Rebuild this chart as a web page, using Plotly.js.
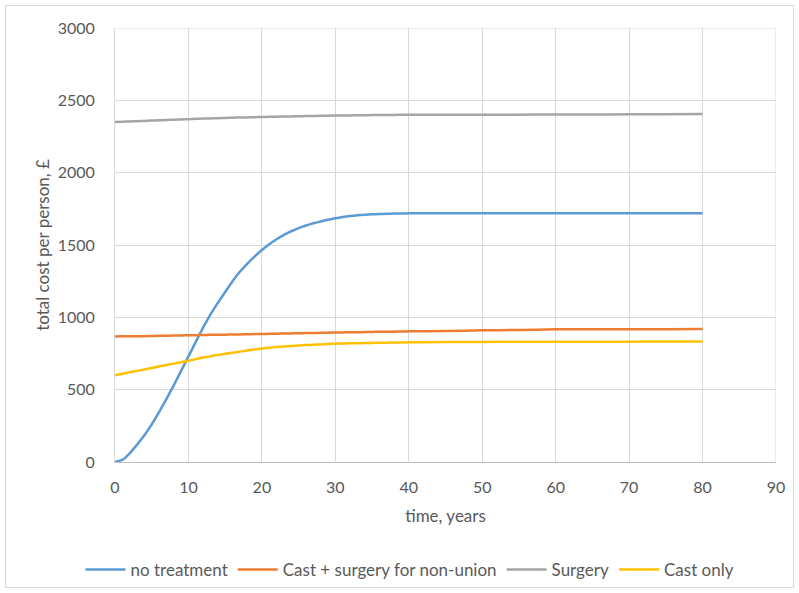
<!DOCTYPE html>
<html><head><meta charset="utf-8">
<script src="https://cdn.plot.ly/plotly-3.0.1.min.js"></script>
<style>html,body{margin:0;padding:0;background:#fff}#c{width:799px;height:593px}</style>
</head><body><div id="c"></div>
<script>
const years = [0,1,2,3,4,5,6,7,8,9,10,11,12,13,14,15,16,17,18,19,20,21,22,23,24,25,26,27,28,29,30,31,32,33,34,35,36,37,38,39,40,45,50,55,60,65,70,75,80];
const noTreatment = [0,15,60,120,185,260,345,435,530,630,730,830,930,1020,1100,1175,1250,1315,1370,1420,1465,1505,1540,1570,1595,1617,1635,1650,1663,1675,1685,1693,1700,1705,1709,1712,1714,1716,1717,1718,1719,1720,1720,1720,1720,1720,1720,1720,1720];
const castSurgery = [868,869,869,870,870,871,872,873,874,875,876,877,878,879,879,880,881,882,883,884,885,886,887,888,889,890,891,892,893,894,895,896,897,897,898,899,900,901,901,902,903,906,910,913,917,918,918,918,919];
const surgery = [2350,2352,2354,2356,2358,2360,2362,2364,2366,2368,2370,2372,2374,2375,2377,2378,2380,2381,2382,2383,2385,2386,2387,2388,2389,2390,2391,2392,2393,2394,2395,2396,2396,2397,2397,2398,2398,2399,2399,2400,2400,2400,2401,2401,2402,2402,2403,2404,2405];
const castOnly = [600,610,620,630,640,650,660,670,680,690,700,711,722,731,740,748,755,763,770,778,785,790,795,799,802,805,808,811,813,816,818,819,820,821,822,823,824,825,826,826,827,829,830,831,832,832,832,833,833];
const seriesNames = ["no treatment","Cast + surgery for non-union","Surgery","Cast only"];
const xTicks = [0,10,20,30,40,50,60,70,80,90];
const yTicks = [0,500,1000,1500,2000,2500,3000];

const colors = ["#5B9BD5","#ED7D31","#A5A5A5","#FFC000"];
const data = [noTreatment, castSurgery, surgery, castOnly].map((v,i)=>({
  x: years, y: v, type:"scatter", mode:"lines", name: seriesNames[i],
  line:{color:colors[i], width:2.5, shape:"spline", smoothing:0.3}
}));
const fam = "Lato, 'Open Sans', sans-serif";
const tickFont = {family:fam, size:16, color:"#595959"};
const titleFont = {family:fam, size:17, color:"#595959"};
const L = 115, R = 776, T = 28, B = 462;
const layout = {
  width:799, height:593, margin:{l:L, r:799-R, t:T, b:593-B, autoexpand:false},
  paper_bgcolor:"#fff", plot_bgcolor:"#fff", font: tickFont, showlegend:true,
  xaxis:{range:[0,90], tickvals:xTicks, ticktext:xTicks.map(String), showgrid:true, gridcolor:"#D9D9D9", gridwidth:1,
    zeroline:false, showline:true, linecolor:"#BFBFBF", linewidth:1, ticks:"", ticklabelstandoff:11, tickfont:tickFont, automargin:false,
    title:{text:"time, years", font:titleFont, standoff:14}, fixedrange:true},
  yaxis:{range:[0,3000], tickvals:yTicks, ticktext:yTicks.map(String), showgrid:true, gridcolor:"#D9D9D9", gridwidth:1,
    zeroline:false, showline:true, linecolor:"#D9D9D9", linewidth:1, ticks:"", ticklabelstandoff:16, tickfont:tickFont, automargin:false,
    title:{text:"total cost per person, £", font:titleFont, standoff:3}, fixedrange:true},
  legend:{orientation:"h", x:(410-L)/(R-L), xanchor:"center", y:-0.207, yanchor:"top", font:titleFont, itemgap:44, itemwidth:40, bgcolor:"rgba(0,0,0,0)"},
  shapes:[
    {type:"line", xref:"x", yref:"y", x0:0, x1:90, y0:3000, y1:3000, line:{color:"#D9D9D9", width:1}, layer:"below"},
    {type:"line", xref:"x", yref:"y", x0:90, x1:90, y0:0, y1:3000, line:{color:"#D9D9D9", width:1}, layer:"below"},
    {type:"rect", xref:"paper", yref:"paper", x0:(5.5-L)/(R-L), x1:(793.5-L)/(R-L), y0:(B-587.5)/(B-T), y1:(B-5.5)/(B-T), line:{color:"#D9D9D9", width:1}}
  ]
};
Plotly.newPlot("c", data, layout, {displayModeBar:false, staticPlot:true});
</script></body></html>
